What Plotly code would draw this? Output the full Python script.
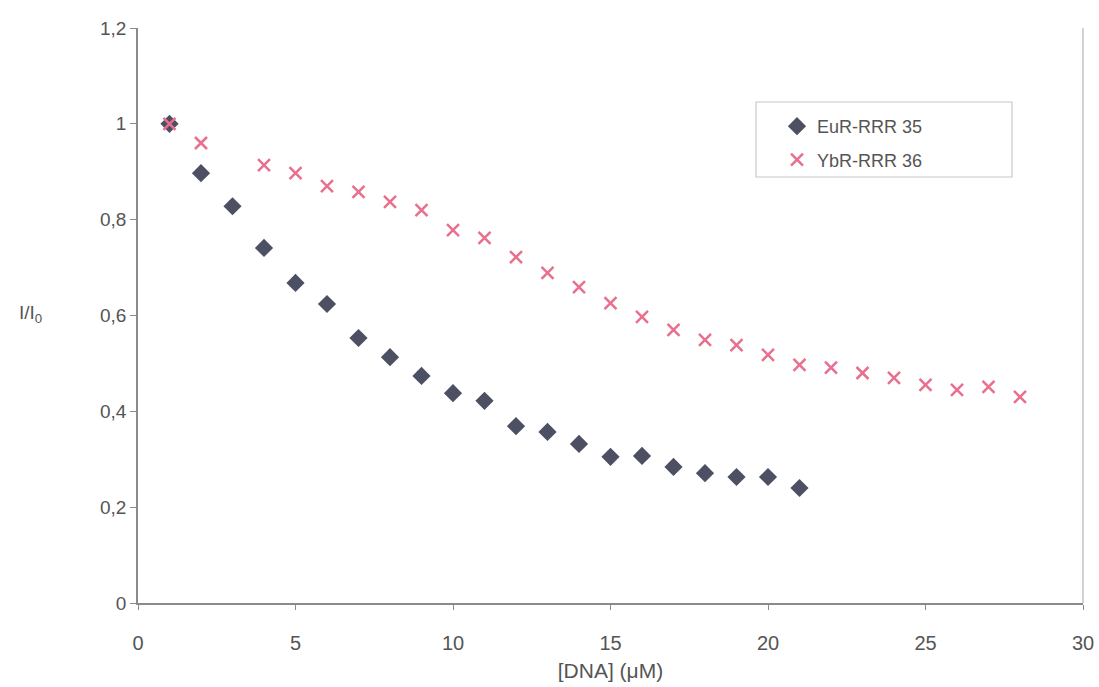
import plotly.graph_objects as go

# ---- data ----
eu_x = [1, 2, 3, 4, 5, 6, 7, 8, 9, 10, 11, 12, 13, 14, 15, 16, 17, 18, 19, 20, 21]
eu_y = [1.00, 0.897, 0.828, 0.741, 0.668, 0.624, 0.553, 0.513, 0.474, 0.438, 0.422,
        0.369, 0.357, 0.332, 0.305, 0.307, 0.284, 0.271, 0.263, 0.263, 0.240]

yb_x = [1, 2, 4, 5, 6, 7, 8, 9, 10, 11, 12, 13, 14, 15, 16, 17, 18, 19, 20, 21,
        22, 23, 24, 25, 26, 27, 28]
yb_y = [1.00, 0.960, 0.914, 0.897, 0.870, 0.858, 0.837, 0.820, 0.778, 0.762, 0.722,
        0.689, 0.659, 0.626, 0.597, 0.570, 0.549, 0.538, 0.518, 0.497, 0.491, 0.480,
        0.470, 0.455, 0.445, 0.451, 0.430]

eu_name = "EuR-RRR 35"
yb_name = "YbR-RRR 36"
x_ticks = [0, 5, 10, 15, 20, 25, 30]
y_ticks = [0, 0.2, 0.4, 0.6, 0.8, 1.0, 1.2]

FONT = "Liberation Sans, Arial, sans-serif"
TXT = "#555555"
W, H = 1099, 687
ml, mr, mt, mb = 138, 16, 28, 84
PL, PR, PT, PB = ml, W - mr, mt, H - mb  # page px of plot area
pw, ph = PR - PL, PB - PT


def px(xp):
    return (xp - PL) / pw


def py(yp):
    return (PB - yp) / ph


fig = go.Figure()
fig.add_trace(go.Scatter(
    x=eu_x, y=eu_y, mode="markers", name=eu_name, legendgroup="a",
    marker=dict(symbol="diamond", size=14, color="#4d4f62",
                line=dict(width=0))))
fig.add_trace(go.Scatter(
    x=yb_x, y=yb_y, mode="markers", name=yb_name, legendgroup="b",
    marker=dict(symbol="x-thin", size=12, color="#e8708e",
                line=dict(width=2.5, color="#e8708e"))))

# legend box
fig.add_shape(type="rect", xref="paper", yref="paper",
              x0=px(756), x1=px(1012), y0=py(177), y1=py(102),
              line=dict(color="#c8c8c8", width=1.2), fillcolor="rgba(0,0,0,0)")
# right border of plot area
fig.add_shape(type="line", xref="paper", yref="paper", x0=1, x1=1, y0=0, y1=1,
              line=dict(color="#b5b5b5", width=1.2))

fig.add_annotation(text="I/I<sub>0</sub>", xref="paper", yref="paper",
                   x=px(30), y=py(314), showarrow=False,
                   font=dict(size=19, color=TXT, family=FONT),
                   xanchor="center", yanchor="middle")

fig.update_layout(
    width=W, height=H,
    margin=dict(l=ml, r=mr, t=mt, b=mb),
    paper_bgcolor="white", plot_bgcolor="white",
    separators=", ",
    font=dict(family=FONT, size=19, color=TXT),
    showlegend=True,
    legend=dict(x=px(777), y=py(108), xanchor="left", yanchor="top",
                bgcolor="rgba(0,0,0,0)", borderwidth=0,
                font=dict(size=18, color=TXT, family=FONT),
                traceorder="grouped", tracegroupgap=7),
    xaxis=dict(range=[0, 30], tickvals=x_ticks, showgrid=False, zeroline=False,
               showline=True, linecolor="#8a8a8a", linewidth=1.5,
               ticks="outside", ticklen=5, tickcolor="#8a8a8a",
               ticklabelstandoff=16,
               title=dict(text="[DNA] (μM)", font=dict(size=21, color=TXT), standoff=11),
               tickfont=dict(size=20, color=TXT), automargin=False),
    yaxis=dict(range=[0, 1.2], tickvals=y_ticks, showgrid=False, zeroline=False,
               showline=True, linecolor="#8a8a8a", linewidth=1.5,
               ticks="outside", ticklen=6, tickcolor="#8a8a8a",
               tickfont=dict(size=19, color=TXT), automargin=False),
)

fig.write_html("out.html",
               config={"displayModeBar": False},
               post_script="document.body.style.margin='0';document.body.style.overflow='hidden';")
